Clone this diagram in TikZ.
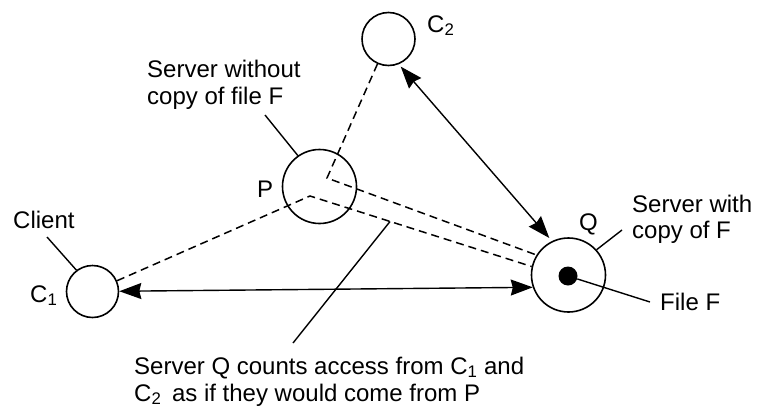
\documentclass[tikz,border=0pt]{standalone}
\usepackage{fontspec}
\setmainfont{Liberation Sans}
\usetikzlibrary{arrows.meta}
\begin{document}
\begin{tikzpicture}[x=1pt,y=-1pt,
  ring/.style={circle,draw,line width=1.6pt,inner sep=0pt},
  dashline/.style={line width=1.5pt,dash pattern=on 8pt off 5pt},
  leader/.style={line width=1.4pt},
  dblarrow/.style={line width=1.4pt,{Stealth[length=22pt,width=16pt,inset=2pt]}-{Stealth[length=22pt,width=16pt,inset=2pt]}},
  lbl/.style={anchor=base west,inner sep=0pt,font=\fontsize{24}{28}\selectfont}]
\useasboundingbox[fill=white] (0,0) rectangle (763,410);
% circles
\node[ring,minimum size=53pt] (C2) at (388.5,39) {};
\node[ring,minimum size=74pt] (P) at (319.5,186.5) {};
\node[ring,minimum size=52pt] (C1) at (92.5,291.5) {};
\node[ring,minimum size=74pt] (Q) at (568.5,275) {};
\node[circle,fill,inner sep=0pt,minimum size=19pt] (dot) at (568,276) {};
% inner points of P
\coordinate (A) at (327,178);
\coordinate (B) at (310,196);
% dashed routes
\draw[dashline] (C2) -- (A) -- (Q.148);
\draw[dashline] (C1) -- (B) -- (Q.167);
% double arrows
\draw[dblarrow] (C1) -- (Q.199);
\draw[dblarrow,shorten <=3pt,shorten >=4pt] (C2.292) -- (Q.116);
% leader lines
\coordinate (swl) at (265,115);
\coordinate (cll) at (47,237);
\coordinate (qwl) at (622,230);
\coordinate (ffl) at (650,302);
\coordinate (bl) at (293,343);
\coordinate (bt) at (390,221.5);
\draw[leader] (swl) -- (P.125.5);
\draw[leader] (cll) -- (C1.127.5);
\draw[leader] (Q.42.4) -- (qwl);
\draw[leader] (dot) -- (ffl);
\draw[leader] (bt) -- (bl);
% labels
\node[lbl] (tC2) at (427,32) {C\textsubscript{2}};
\node[lbl] (tSw1) at (147,77) {Server without};
\node[lbl] (tSw2) at (147,104) {copy of file F};
\node[lbl] (tP) at (257,197) {P};
\node[lbl] (tCl) at (13,228) {Client};
\node[lbl] (tC1) at (30,302) {C\textsubscript{1}};
\node[lbl] (tQ) at (579,230) {Q};
\node[lbl] (tSq1) at (632,212) {Server with};
\node[lbl] (tSq2) at (632,238) {copy of F};
\node[lbl] (tFF) at (660,310) {File F};
\node[lbl] (tB1) at (134,374) {Server Q counts access from C\textsubscript{1} and};
\node[lbl] (tB2) at (134,401) {C\textsubscript{2}\, as if they would come from P};
\end{tikzpicture}
\end{document}
